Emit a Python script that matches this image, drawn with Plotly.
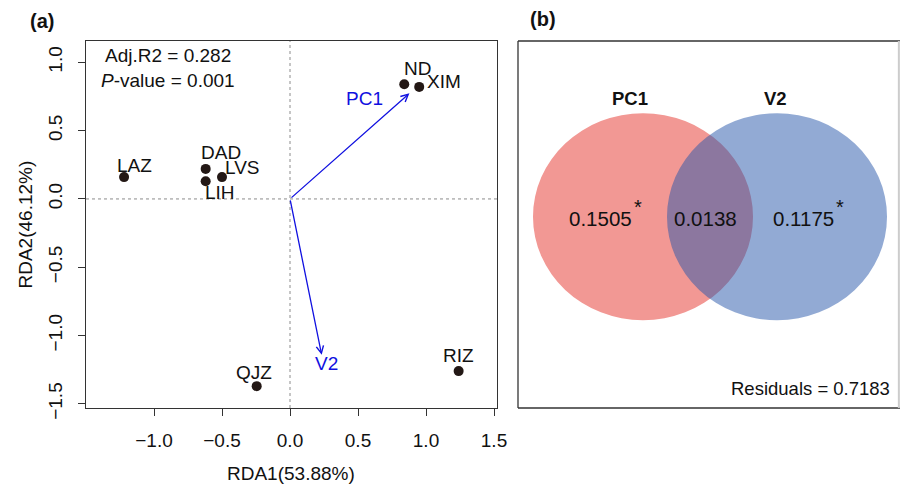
import plotly.graph_objects as go

# ---------------- data ----------------
sites = ["LAZ", "DAD", "LIH", "LVS", "ND", "XIM", "QJZ", "RIZ"]
rda1 = [-1.22, -0.62, -0.62, -0.50, 0.84, 0.95, -0.245, 1.24]
rda2 = [0.16, 0.22, 0.13, 0.16, 0.84, 0.82, -1.37, -1.26]

env_vars = ["PC1", "V2"]
env_rda1 = [0.878, 0.233]
env_rda2 = [0.773, -1.141]

x_ticks = [-1.0, -0.5, 0.0, 0.5, 1.0, 1.5]
y_ticks = [-1.5, -1.0, -0.5, 0.0, 0.5, 1.0]

adj_r2 = 0.282
p_value = 0.001
x_title = "RDA1(53.88%)"
y_title = "RDA2(46.12%)"

venn_sets = ["PC1", "V2"]
venn_only = [0.1505, 0.1175]
venn_shared = 0.0138
residuals = 0.7183

# ---------------- layout helpers ----------------
W, H = 904, 485
FONT = "Liberation Sans, Arial, sans-serif"


def px(x):
    return x / W


def py(y):
    return 1 - y / H


def txt(x, y, text, size=19, color="#111", ref=("paper", "paper"), **kw):
    d = dict(x=x, y=y, xref=ref[0], yref=ref[1], text=text, showarrow=False,
             xanchor="center", yanchor="middle",
             font=dict(family=FONT, size=size, color=color))
    d.update(kw)
    return d


# label offsets in pixels (dx right, dy up)
label_off = {
    "LAZ": (10, 12), "DAD": (15, 16), "LIH": (14, -11), "LVS": (20, 10),
    "ND": (13, 16), "XIM": (25, 5), "QJZ": (-3, 14), "RIZ": (0, 16),
}
env_label_off = {"PC1": (-45, -5), "V2": (5, -9)}

fig = go.Figure()

# zero lines
fig.add_shape(type="line", xref="x", yref="y", x0=0, x1=0, y0=-1.53, y1=1.156,
              line=dict(color="#8c8c8c", width=1, dash="dot"), layer="below")
fig.add_shape(type="line", xref="x", yref="y", x0=-1.5, x1=1.522, y0=0, y1=0,
              line=dict(color="#8c8c8c", width=1, dash="dot"), layer="below")

fig.add_trace(go.Scatter(
    x=rda1, y=rda2, mode="markers", xaxis="x", yaxis="y",
    marker=dict(color="#231815", size=10), showlegend=False, hoverinfo="skip"))

annotations = []
for n, xv, yv in zip(sites, rda1, rda2):
    dx, dy = label_off[n]
    annotations.append(txt(xv, yv, n, ref=("x", "y"), xshift=dx, yshift=dy))

for n, xv, yv in zip(env_vars, env_rda1, env_rda2):
    annotations.append(dict(x=xv, y=yv, xref="x", yref="y", ax=0, ay=0, axref="x", ayref="y",
                            text="", showarrow=True, arrowhead=5, arrowsize=1.1, arrowwidth=1.3,
                            arrowcolor="#1010e0", standoff=0, startstandoff=0))
    dx, dy = env_label_off[n]
    annotations.append(txt(xv, yv, n, color="#1010e0", ref=("x", "y"), xshift=dx, yshift=dy))

annotations += [
    txt(px(168), py(55), f"Adj.R2 = {adj_r2}"),
    txt(px(168), py(81), f"<i>P</i>-value = {p_value:.3f}"),
    txt(px(291), py(473), x_title),
    txt(px(25), py(224.5), y_title, textangle=-90),
    txt(px(42), py(21), "<b>(a)</b>", size=20),
    txt(px(543), py(19), "<b>(b)</b>", size=20),
]

# ---------------- panel b (venn) ----------------
bx0, bx1, by0, by1 = 518, 900, 41, 408
cx = [643, 777]
cy = 216.7
rx, ry = 110, 103.5


def vx(x):
    return (x - bx0) / (bx1 - bx0)


def vy(y):
    return (by1 - y) / (by1 - by0)


venn_fill = ["rgb(242,152,148)", "rgba(37,85,169,0.5)"]
for i in range(2):
    fig.add_shape(type="circle", xref="x2", yref="y2",
                  x0=vx(cx[i] - rx), x1=vx(cx[i] + rx), y0=vy(cy + ry), y1=vy(cy - ry),
                  fillcolor=venn_fill[i], line=dict(width=0))

# box
for (x0, x1, y0, y1) in [(0, 0, 0, 1), (0, 1, 1, 1), (0, 1, 0, 0)]:
    fig.add_shape(type="line", xref="x2 domain", yref="y2 domain", x0=x0, x1=x1, y0=y0, y1=y1,
                  line=dict(color="#333", width=1.3))
fig.add_shape(type="line", xref="x2 domain", yref="y2 domain", x0=0.997, x1=0.997, y0=0, y1=1,
              line=dict(color="#cccccc", width=2))

set_label_x = [630, 775]
num_x = [600, 803]
star_x = [637.7, 840]
for i in range(2):
    annotations.append(txt(vx(set_label_x[i]), vy(98.3), f"<b>{venn_sets[i]}</b>",
                           size=18.5, ref=("x2", "y2")))
    annotations.append(txt(vx(num_x[i]), vy(218.3), f"{venn_only[i]:.4f}",
                           size=20.5, ref=("x2", "y2")))
    annotations.append(txt(vx(star_x[i]), vy(207), "*", size=20, ref=("x2", "y2")))
annotations.append(txt(vx(705), vy(218.3), f"{venn_shared:.4f}", size=20.5, ref=("x2", "y2")))
annotations.append(txt(vx(892), vy(388.3), f"Residuals = {residuals:.4f}", size=18.5,
                       ref=("x2", "y2"), xanchor="right"))

axis_common = dict(showgrid=False, zeroline=False, showline=True, mirror=True,
                   linecolor="#333", linewidth=1.3, ticks="outside", ticklen=7,
                   tickwidth=1.3, tickcolor="#333", automargin=False,
                   tickfont=dict(family=FONT, size=19, color="#111"), tickformat=".1f")

fig.update_layout(
    width=W, height=H, margin=dict(l=0, r=0, t=0, b=0, autoexpand=False),
    paper_bgcolor="white", plot_bgcolor="white", showlegend=False,
    xaxis=dict(domain=[px(86), px(497)], range=[-1.5, 1.522], tickvals=x_ticks,
               anchor="y", ticklabelstandoff=8, **axis_common),
    yaxis=dict(domain=[py(408), py(41)], range=[-1.53, 1.156], tickvals=y_ticks,
               anchor="x", tickangle=-90, ticklabelstandoff=8, **axis_common),
    xaxis2=dict(domain=[px(bx0), px(bx1)], range=[0, 1], visible=False, anchor="y2",
                automargin=False),
    yaxis2=dict(domain=[py(by1), py(by0)], range=[0, 1], visible=False, anchor="x2",
                automargin=False),
    annotations=annotations,
)

fig.write_html("out.html", config={"displayModeBar": False},
               post_script="document.body.style.margin='0';document.body.style.overflow='hidden';")
